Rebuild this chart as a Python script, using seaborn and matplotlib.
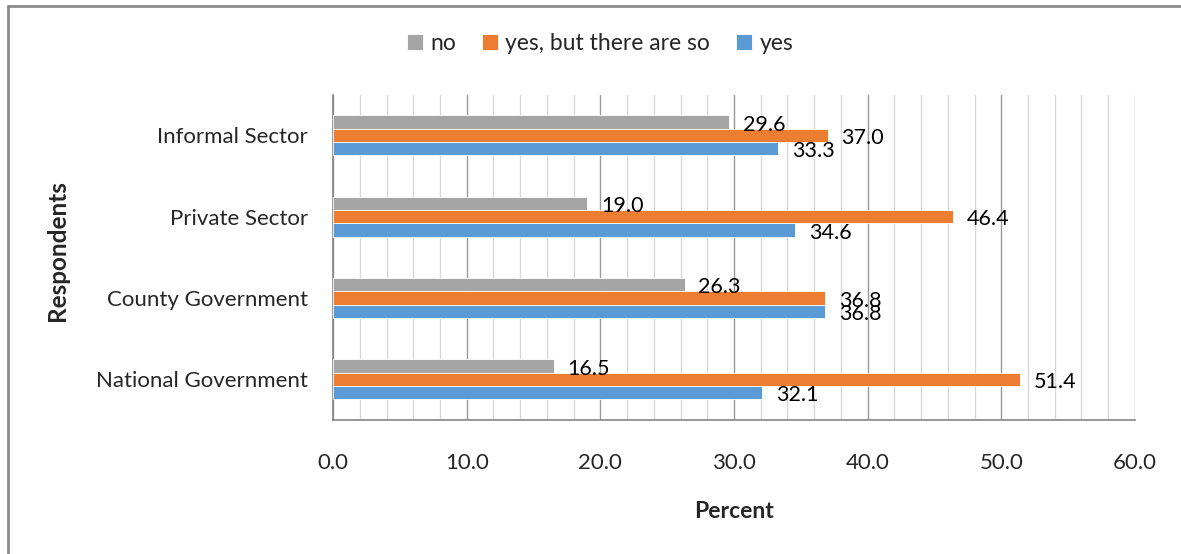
import numpy as np
import pandas as pd
import seaborn as sns
import matplotlib.pyplot as plt
from matplotlib.lines import Line2D
from matplotlib.ticker import MultipleLocator

# data
respondents = ["Informal Sector", "Private Sector", "County Government", "National Government"]
answers = ["no", "yes, but there are so", "yes"]
no_vals = [29.6, 19.0, 26.3, 16.5]
yes_but_vals = [37.0, 46.4, 36.8, 51.4]
yes_vals = [33.3, 34.6, 36.8, 32.1]
x_ticks = [0, 10, 20, 30, 40, 50, 60]

df = pd.DataFrame({
    "Respondents": respondents * 3,
    "Answer": [a for a in answers for _ in respondents],
    "Percent": no_vals + yes_but_vals + yes_vals,
})

sns.set_style("white")
plt.rcParams["font.family"] = ["Lato", "DejaVu Sans"]
colors = {"no": "#A5A5A5", "yes, but there are so": "#ED7D31", "yes": "#5B9BD5"}

fig = plt.figure(figsize=(11.81, 5.54), dpi=100)
ax = fig.add_axes([0.282, 0.242, 0.679, 0.587])

sns.barplot(data=df, y="Respondents", x="Percent", hue="Answer",
            order=respondents, hue_order=answers, palette=colors, saturation=1,
            orient="h", width=0.49, edgecolor="white", linewidth=0.6,
            ax=ax, zorder=3)

# value labels
for cont in ax.containers:
    labels = ax.bar_label(cont, fmt="%.1f", padding=10, fontsize=15.5, color="black")
    for t in labels:
        t.xyann = (10, -2)

ax.set_xlim(0, 60)
ax.set_xticks(x_ticks)
ax.set_xticklabels([f"{v:.1f}" for v in x_ticks])
ax.xaxis.set_minor_locator(MultipleLocator(2))
ax.grid(axis="x", which="major", color="#9A9A9A", linewidth=1.0, zorder=0)
ax.grid(axis="x", which="minor", color="#D9D9D9", linewidth=1.0, zorder=0)
ax.set_axisbelow(True)

for s in ["top", "right"]:
    ax.spines[s].set_visible(False)
for s in ["left", "bottom"]:
    ax.spines[s].set_color("#868686")
    ax.spines[s].set_linewidth(1.2)

ax.tick_params(axis="x", which="major", direction="out", length=5, color="#868686",
               pad=19, labelsize=16)
ax.tick_params(axis="x", which="minor", length=0)
ax.tick_params(axis="y", length=0, pad=18, labelsize=16)

ax.set_xlabel("Percent", fontsize=16.5, fontweight="bold")
ax.set_ylabel("Respondents", fontsize=17.5, fontweight="bold")
ax.xaxis.set_label_coords(0.5, -0.25)
ax.yaxis.set_label_coords(-0.329, 0.52)

sns.move_legend(ax, "center", bbox_to_anchor=(0.333, 1.157), ncol=3, frameon=False,
                title=None, fontsize=16.5, handlelength=0.7, handleheight=0.7,
                columnspacing=1.15, handletextpad=0.3)

# outer frame (left and top only visible)
fig.add_artist(Line2D([0.0065, 0.0065], [0, 0.989], color="#8C8C8C", linewidth=2,
                      transform=fig.transFigure))
fig.add_artist(Line2D([0.0065, 1.0], [0.989, 0.989], color="#8C8C8C", linewidth=2,
                      transform=fig.transFigure))

fig.savefig("out.png", dpi=100)
